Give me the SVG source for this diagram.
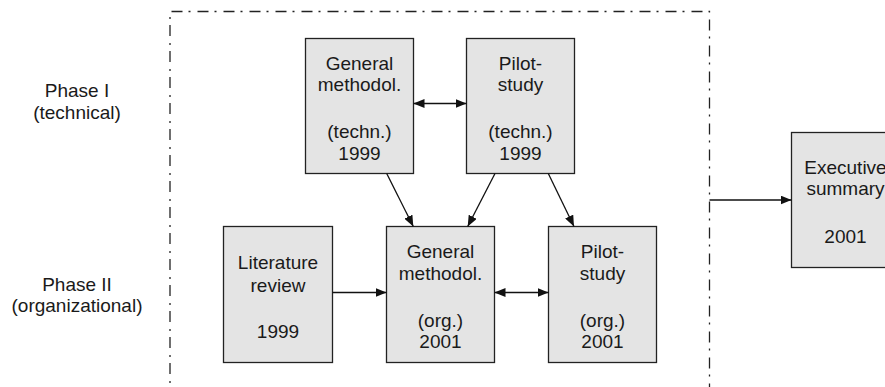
<svg xmlns="http://www.w3.org/2000/svg" width="885" height="387" viewBox="0 0 885 387">
  <defs>
    <style>
      .box { fill: #e4e4e4; stroke: #222; stroke-width: 1.3; }
      .t { font-family: "Liberation Sans", Arial, sans-serif; font-size: 19px; fill: #1a1a1a; text-anchor: middle; }
      .conn { stroke: #111; stroke-width: 1.3; fill: none; }
      .frame { stroke: #222; stroke-width: 1.3; fill: none; stroke-dasharray: 11 6 2 7; }
    </style>
    <marker id="ah" viewBox="0 0 11 9" markerUnits="userSpaceOnUse" markerWidth="11" markerHeight="9" refX="11" refY="4.5" orient="auto-start-reverse">
      <path d="M0,0 L11,4.5 L0,9 z" fill="#111"/>
    </marker>
  </defs>
  <rect width="885" height="387" fill="#fff"/>

  <path class="frame" d="M170,400 L170,11.5 L709.5,11.5 L709.5,400"/>

  <g id="phase1">
    <text class="t" x="77" y="97.3">Phase I</text>
    <text class="t" x="77" y="118.8">(technical)</text>
  </g>
  <g id="phase2">
    <text class="t" x="77" y="291">Phase II</text>
    <text class="t" x="77" y="312">(organizational)</text>
  </g>

  <g id="gm_tech">
    <rect class="box" x="305.5" y="38.5" width="108" height="135"/>
    <text class="t" x="359.5" y="70">General</text>
    <text class="t" x="359.5" y="91">methodol.</text>
    <text class="t" x="359.5" y="138">(techn.)</text>
    <text class="t" x="359.5" y="159.5">1999</text>
  </g>
  <g id="ps_tech">
    <rect class="box" x="466.5" y="38.5" width="108" height="135"/>
    <text class="t" x="520.5" y="70">Pilot-</text>
    <text class="t" x="520.5" y="91">study</text>
    <text class="t" x="520.5" y="138">(techn.)</text>
    <text class="t" x="520.5" y="159.5">1999</text>
  </g>
  <g id="lit">
    <rect class="box" x="223.5" y="226.5" width="109" height="136"/>
    <text class="t" x="278" y="269.3">Literature</text>
    <text class="t" x="278" y="291.7">review</text>
    <text class="t" x="278" y="337.7">1999</text>
  </g>
  <g id="gm_org">
    <rect class="box" x="386.5" y="226.5" width="108" height="136"/>
    <text class="t" x="440.5" y="258">General</text>
    <text class="t" x="440.5" y="280">methodol.</text>
    <text class="t" x="440.5" y="326.7">(org.)</text>
    <text class="t" x="440.5" y="348.3">2001</text>
  </g>
  <g id="ps_org">
    <rect class="box" x="548.5" y="226.5" width="108" height="136"/>
    <text class="t" x="602.5" y="258">Pilot-</text>
    <text class="t" x="602.5" y="280">study</text>
    <text class="t" x="602.5" y="326.7">(org.)</text>
    <text class="t" x="602.5" y="348.3">2001</text>
  </g>
  <g id="exec">
    <rect class="box" x="791.5" y="132.5" width="108" height="135"/>
    <text class="t" x="845.5" y="174.3">Executive</text>
    <text class="t" x="845.5" y="195">summary</text>
    <text class="t" x="845.5" y="242.7">2001</text>
  </g>

  <g id="connectors">
    <path class="conn" d="M413.5,103.5 L466.5,103.5" marker-start="url(#ah)" marker-end="url(#ah)"/>
    <path class="conn" d="M386.7,173.5 L413.3,226.5" marker-end="url(#ah)"/>
    <path class="conn" d="M495,173.5 L467.7,226.5" marker-end="url(#ah)"/>
    <path class="conn" d="M548.3,173.5 L574,226.5" marker-end="url(#ah)"/>
    <path class="conn" d="M332.5,292.5 L386.5,292.5" marker-end="url(#ah)"/>
    <path class="conn" d="M494.5,292.5 L548.5,292.5" marker-start="url(#ah)" marker-end="url(#ah)"/>
    <path class="conn" d="M709.5,200 L791.5,200" marker-end="url(#ah)"/>
  </g>
</svg>
